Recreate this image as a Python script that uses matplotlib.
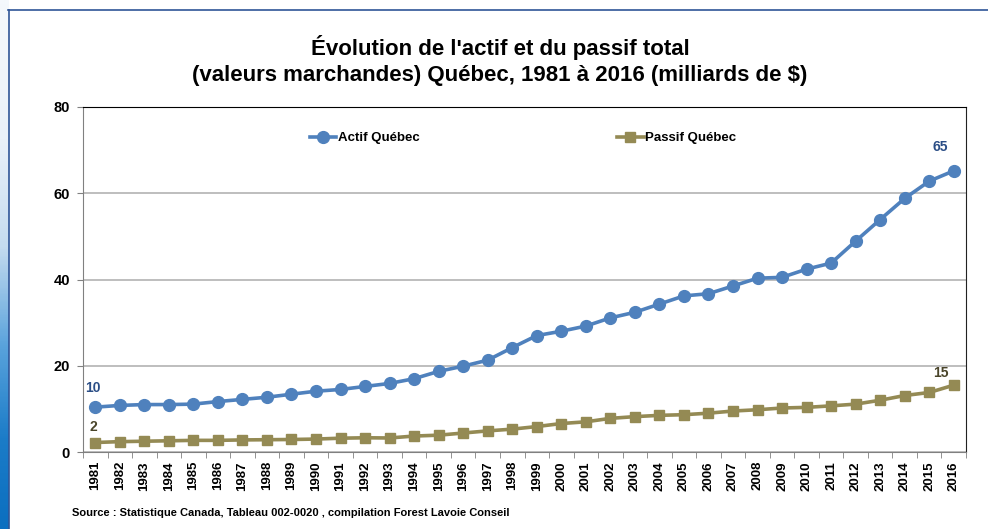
import numpy as np
import matplotlib
matplotlib.use('Agg')
import matplotlib.pyplot as plt
from matplotlib import font_manager
from matplotlib.lines import Line2D
from matplotlib.colors import LinearSegmentedColormap

names = set(f.name for f in font_manager.fontManager.ttflist)
fam = 'Liberation Sans Narrow' if 'Liberation Sans Narrow' in names else 'Liberation Sans'
plt.rcParams['font.family'] = [fam, 'DejaVu Sans']
plt.rcParams['font.weight'] = 'bold'

years = [str(y) for y in range(1981, 2017)]
actif = [10.4, 10.8, 11.0, 11.0, 11.1, 11.7, 12.2, 12.7, 13.4, 14.1, 14.5, 15.2,
         15.9, 17.0, 18.7, 19.9, 21.3, 24.2, 27.0, 28.0, 29.2, 31.1, 32.4, 34.3,
         36.2, 36.7, 38.5, 40.3, 40.5, 42.4, 43.8, 48.9, 53.9, 58.8, 62.8, 65.2]
passif = [2.2, 2.4, 2.5, 2.6, 2.7, 2.7, 2.8, 2.85, 2.9, 3.0, 3.2, 3.3,
          3.25, 3.7, 3.9, 4.4, 4.9, 5.3, 5.9, 6.6, 7.0, 7.8, 8.2, 8.5,
          8.65, 9.0, 9.5, 9.8, 10.2, 10.35, 10.7, 11.1, 12.0, 13.1, 13.8, 15.5]
lab_actif = {0: '10', 35: '65'}
lab_passif = {0: '2', 35: '15'}

blue = '#4f81bd'
olive = '#948a54'

W, H = 988, 529
fig = plt.figure(figsize=(W / 100, H / 100), dpi=100)

# left decorative stripe
sax = fig.add_axes([0, 0, 8 / W, 1])
cmap = LinearSegmentedColormap.from_list('s', ['#f4f8fc', '#eaf1f9', '#c4dbef', '#5aa3dc', '#1b7cc8', '#0b6fc0'])
grad = np.linspace(0, 1, 200).reshape(-1, 1) ** 1.2
sax.imshow(grad, aspect='auto', cmap=cmap, extent=[0, 1, 0, 1], origin='upper')
sax.axis('off')

# frame lines
fig.add_artist(Line2D([8 / W, 1], [1 - 10 / H, 1 - 10 / H], color='#2f5597', lw=1.2))
fig.add_artist(Line2D([8.5 / W, 8.5 / W], [0, 1 - 10 / H], color='#2f5597', lw=1.2))

ax = fig.add_axes([83 / W, 1 - 452 / H, 883 / W, 345 / H])
x = np.arange(len(years))
l1, = ax.plot(x, actif, color=blue, lw=2.6, marker='o', ms=8.5, label='Actif Québec', zorder=3)
l2, = ax.plot(x, passif, color=olive, lw=2.6, marker='s', ms=6.5, label='Passif Québec', zorder=3)

ax.set_xlim(-0.5, len(years) - 0.5)
ax.set_ylim(0, 80)
ax.set_yticks([0, 20, 40, 60, 80])
ax.yaxis.grid(True, color='#b3b3b3', lw=1.2)
ax.set_axisbelow(True)
ax.tick_params(axis='y', direction='out', length=4, color='#808080', pad=5.5, labelsize=10.5)
ax.set_xticks(x)
ax.set_xticklabels(years, rotation=90, fontsize=9.5)
ax.set_xticks(np.arange(-0.5, len(years), 1), minor=True)
ax.tick_params(axis='x', which='major', length=0, pad=6.5)
ax.tick_params(axis='x', which='minor', direction='out', length=4, color='#808080')
for lab in ax.get_xticklabels() + ax.get_yticklabels():
    lab.set_fontweight('bold')
ax.spines['left'].set_color('#808080')
ax.spines['bottom'].set_color('#808080')
ax.spines['top'].set_color('#000000')
ax.spines['right'].set_color('#222222')

# data labels
for i, t in lab_actif.items():
    off = (-2, 14) if i == 0 else (-10, 17)
    ax.annotate(t, (x[i], actif[i]), xytext=off, textcoords='offset points',
                ha='center', va='center', color='#2b4e86', fontsize=10, fontweight='bold')
for i, t in lab_passif.items():
    off = (-1.5, 11) if i == 0 else (-9, 9)
    ax.annotate(t, (x[i], passif[i]), xytext=off, textcoords='offset points',
                ha='center', va='center', color='#4a452a', fontsize=10, fontweight='bold')

# legend entries
leg1 = ax.legend(handles=[l1], loc='center left', bbox_to_anchor=(0.257, 0.91), frameon=False,
                 handlelength=2.0, handletextpad=0.1, borderpad=0, borderaxespad=0,
                 prop={'size': 9.5, 'weight': 'bold'})
ax.add_artist(leg1)
ax.legend(handles=[l2], loc='center left', bbox_to_anchor=(0.605, 0.91), frameon=False,
          handlelength=2.0, handletextpad=0.1, borderpad=0, borderaxespad=0,
          prop={'size': 9.5, 'weight': 'bold'})

fig.text(500 / W, 1 - 47 / H, "Évolution de l'actif et du passif total", ha='center', va='center',
         fontsize=16, fontweight='bold')
fig.text(500 / W, 1 - 76 / H, "(valeurs marchandes) Québec, 1981 à 2016 (milliards de $)",
         ha='center', va='center', fontsize=16, fontweight='bold')
fig.text(72 / W, 1 - 513 / H, "Source : Statistique Canada, Tableau 002-0020 , compilation Forest Lavoie Conseil",
         ha='left', va='center', fontsize=8, fontweight='bold')

fig.savefig('out.png', dpi=100, facecolor='white')
